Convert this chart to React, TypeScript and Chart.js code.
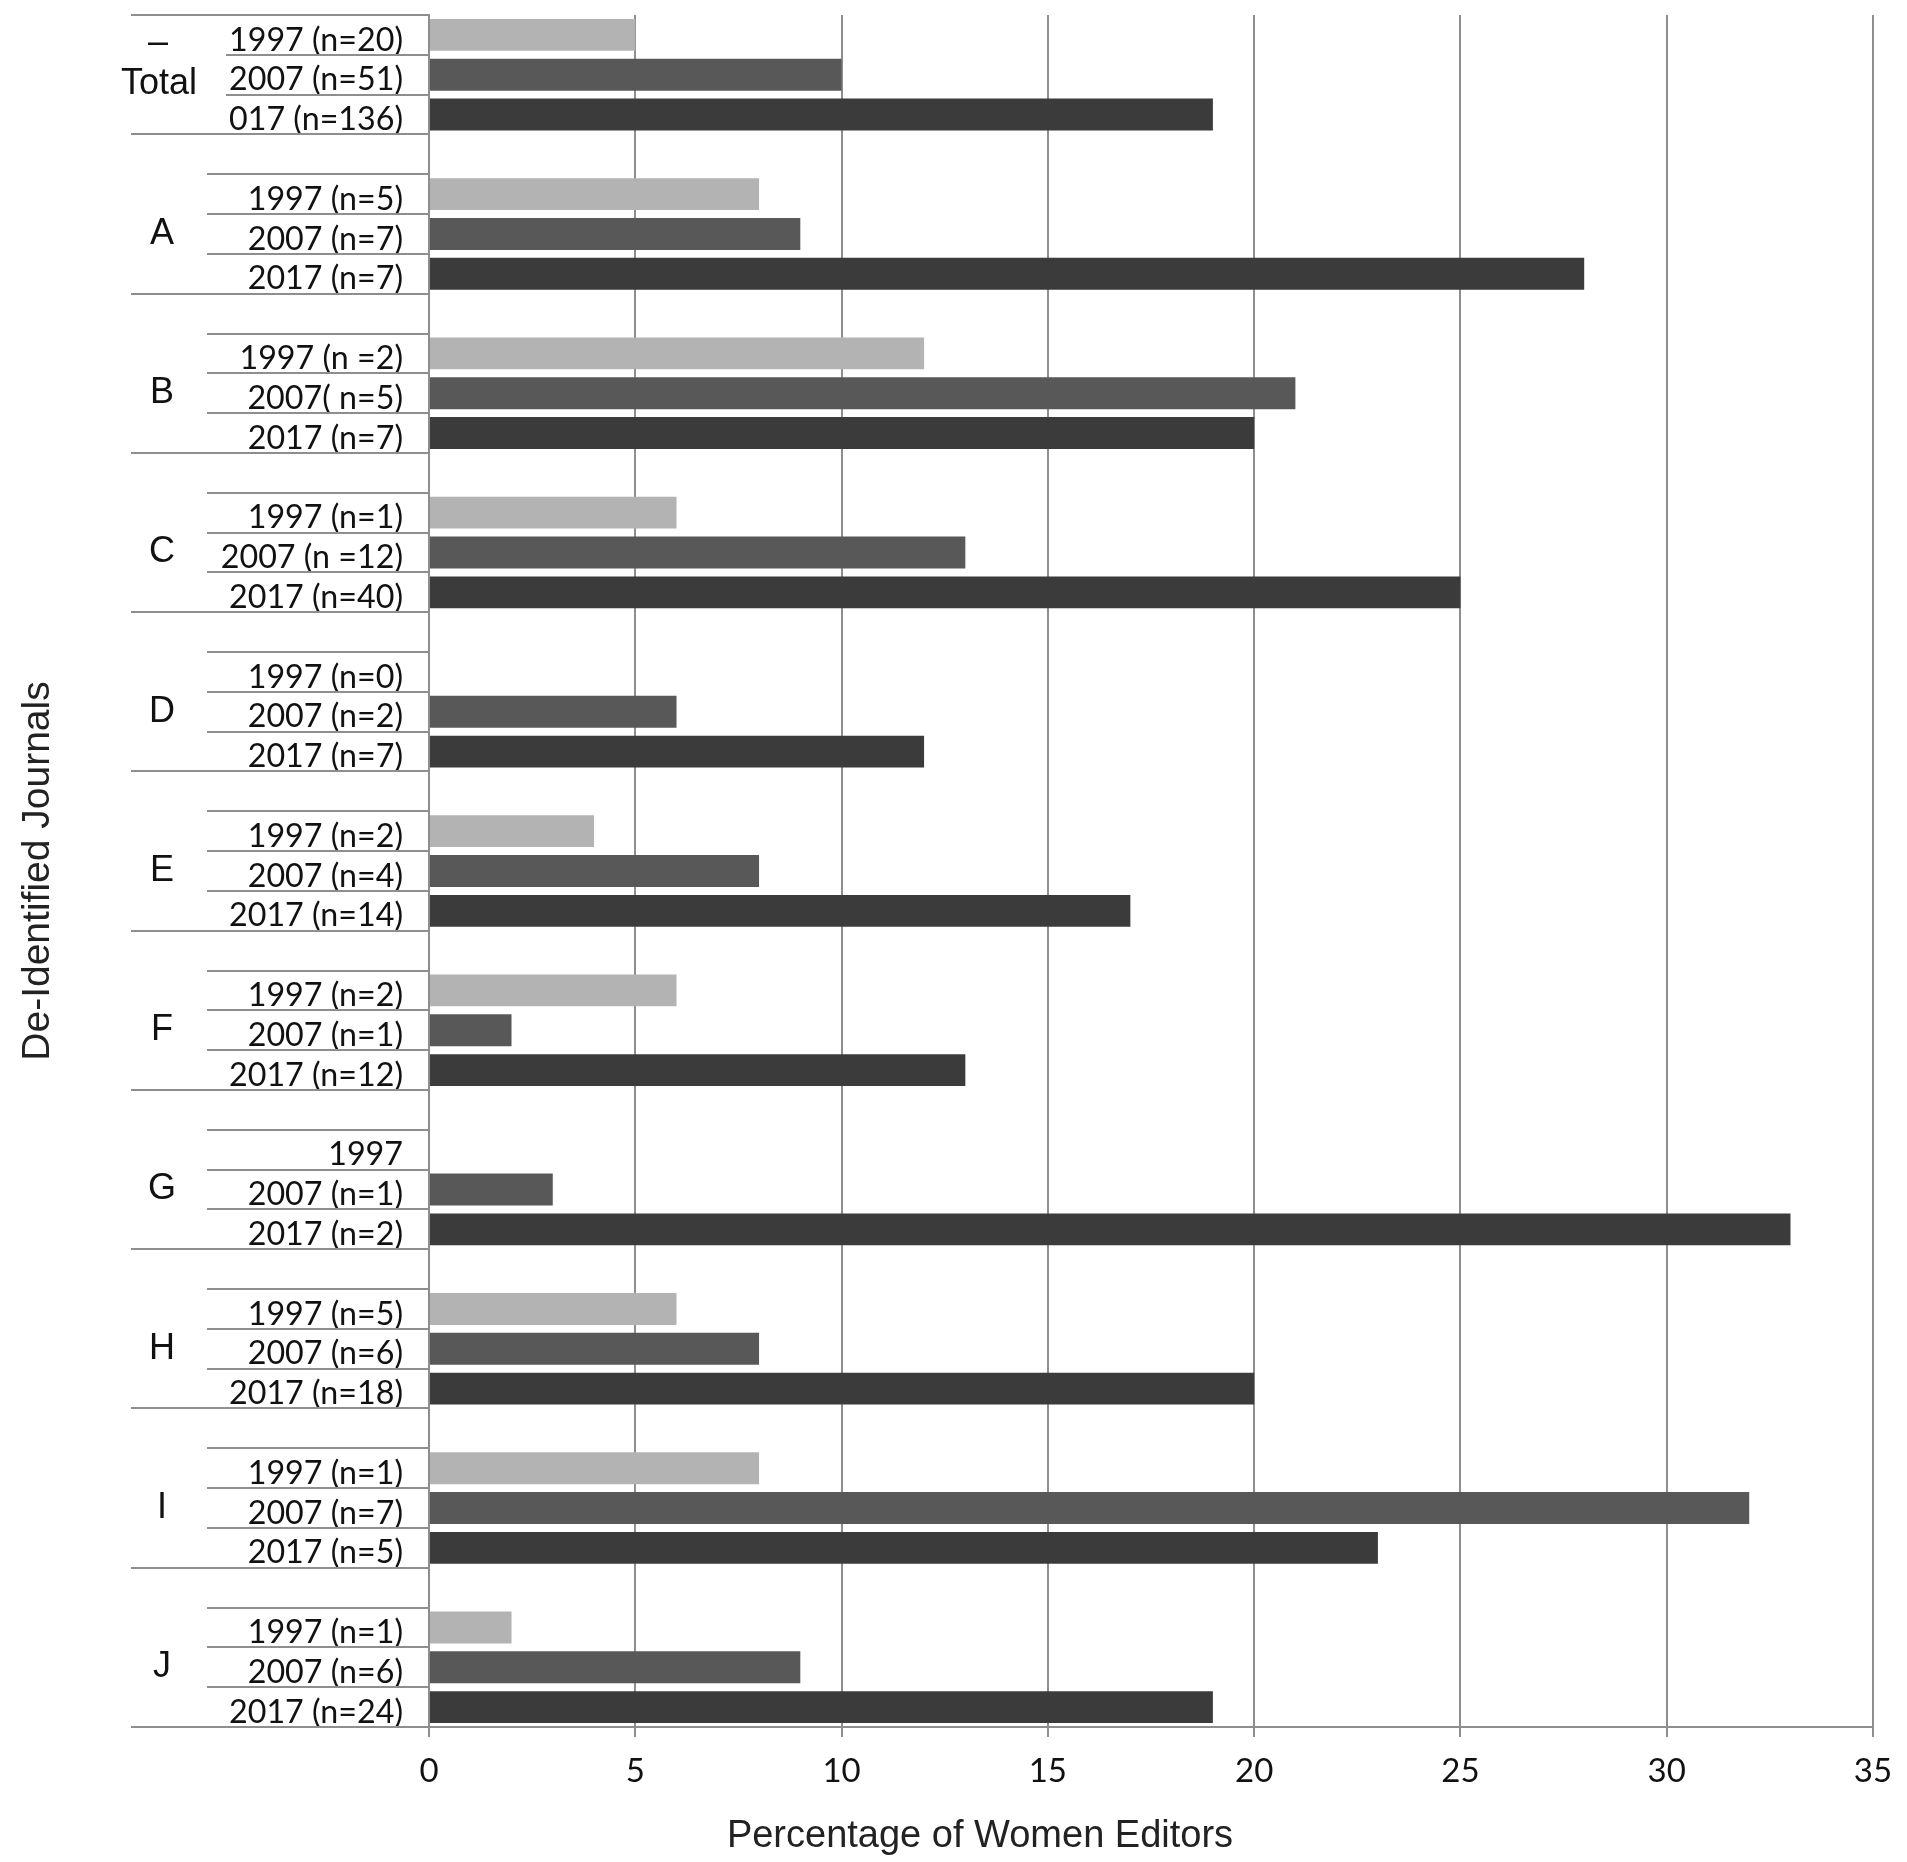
import React, { useEffect, useRef } from 'react';
import { Chart, registerables } from 'chart.js';

Chart.register(...registerables);

// ---- data ----
const groups = ['Total', 'A', 'B', 'C', 'D', 'E', 'F', 'G', 'H', 'I', 'J'];
const labels1997 = ['1997 (n=20)', '1997 (n=5)', '1997 (n =2)', '1997 (n=1)', '1997 (n=0)', '1997 (n=2)', '1997 (n=2)', '1997', '1997 (n=5)', '1997 (n=1)', '1997 (n=1)'];
const labels2007 = ['2007 (n=51)', '2007 (n=7)', '2007( n=5)', '2007 (n =12)', '2007 (n=2)', '2007 (n=4)', '2007 (n=1)', '2007 (n=1)', '2007 (n=6)', '2007 (n=7)', '2007 (n=6)'];
const labels2017 = ['017 (n=136)', '2017 (n=7)', '2017 (n=7)', '2017 (n=40)', '2017 (n=7)', '2017 (n=14)', '2017 (n=12)', '2017 (n=2)', '2017 (n=18)', '2017 (n=5)', '2017 (n=24)'];
const values1997: (number | null)[] = [5, 8, 12, 6, 0, 4, 6, null, 6, 8, 2];
const values2007: (number | null)[] = [10, 9, 21, 13, 6, 8, 2, 3, 8, 32, 9];
const values2017: (number | null)[] = [19, 28, 20, 25, 12, 17, 13, 33, 20, 23, 19];
const xTicks = [0, 5, 10, 15, 20, 25, 30, 35];

const C1997 = '#b3b3b3';
const C2007 = '#585858';
const C2017 = '#3b3b3b';
const LINE = '#8e8e8e';
const TEXT = '#111111';
const LABEL_FONT = 'Lato, "Open Sans", sans-serif';
const SANS = '"Liberation Sans", Arial, sans-serif';

export default function App() {
  const ref = useRef<HTMLCanvasElement>(null);

  useEffect(() => {
    if (!ref.current) return;
    const slotLabels: string[] = [];
    const d1997: (number | null)[] = [];
    const d2007: (number | null)[] = [];
    const d2017: (number | null)[] = [];
    const groupSlots: number[][] = [];
    groups.forEach((_g, i) => {
      if (i > 0) {
        slotLabels.push('');
        d1997.push(null);
        d2007.push(null);
        d2017.push(null);
      }
      const start = slotLabels.length;
      slotLabels.push(labels1997[i], labels2007[i], labels2017[i]);
      d1997.push(values1997[i], null, null);
      d2007.push(null, values2007[i], null);
      d2017.push(null, null, values2017[i]);
      groupSlots.push([start, start + 1, start + 2]);
    });

    const groupPlugin = {
      id: 'groupPlugin',
      afterDraw(chart: any) {
        const ctx = chart.ctx as CanvasRenderingContext2D;
        const y = chart.scales.y;
        const axisX = chart.chartArea.left;
        const h = y.getPixelForValue(1) - y.getPixelForValue(0);
        ctx.save();
        ctx.strokeStyle = LINE;
        ctx.lineWidth = 2;
        const line = (x0: number, yy: number) => {
          const r = Math.round(yy);
          ctx.beginPath();
          ctx.moveTo(x0, r);
          ctx.lineTo(axisX, r);
          ctx.stroke();
        };

        // category labels
        ctx.font = `33px ${LABEL_FONT}`;
        const refW = ctx.measureText('1997 (n=20)').width;
        const sx = refW > 0 ? Math.min(1.08, Math.max(0.92, 174 / refW)) : 1;
        ctx.fillStyle = TEXT;
        ctx.textAlign = 'right';
        ctx.textBaseline = 'middle';
        const labels = chart.data.labels as string[];
        labels.forEach((lab, idx) => {
          if (!lab) return;
          const yy = y.getPixelForValue(idx) + 5;
          ctx.save();
          ctx.translate(axisX - 26, yy);
          ctx.scale(sx, 1);
          ctx.fillText(lab, 0, 0);
          ctx.restore();
        });

        groupSlots.forEach((slots, gi) => {
          const top = y.getPixelForValue(slots[0]) - h / 2;
          const bottom = y.getPixelForValue(slots[2]) + h / 2;
          const shortX = gi === 0 ? 226 : 207;
          line(gi === 0 ? 131 : 207, top);
          line(shortX, top + h);
          line(shortX, top + 2 * h);
          line(131, bottom);
          const mid = (top + bottom) / 2;
          ctx.fillStyle = TEXT;
          ctx.font = `36px ${SANS}`;
          ctx.textAlign = 'center';
          ctx.textBaseline = 'middle';
          if (gi === 0) {
            ctx.fillText('–', 158, mid - 32);
            ctx.fillText(groups[gi], 159, mid + 9);
          } else {
            ctx.fillText(groups[gi], 162, mid);
          }
        });
        ctx.font = `38px ${SANS}`;
        ctx.fillStyle = '#222';
        ctx.textAlign = 'center';
        ctx.textBaseline = 'middle';
        ctx.fillText('Percentage of Women Editors', 980, 1837);
        ctx.restore();
      },
    };

    const chart = new Chart(ref.current, {
      type: 'bar',
      data: {
        labels: slotLabels,
        datasets: [
          { label: '1997', data: d1997, backgroundColor: C1997, borderWidth: 0 },
          { label: '2007', data: d2007, backgroundColor: C2007, borderWidth: 0 },
          { label: '2017', data: d2017, backgroundColor: C2017, borderWidth: 0 },
        ],
      },
      options: {
        indexAxis: 'y',
        responsive: false,
        animation: false,
        layout: { padding: { left: 0, top: 15, right: 34, bottom: 0 } },
        datasets: { bar: { barPercentage: 0.8, categoryPercentage: 1.0 } },
        plugins: { legend: { display: false }, tooltip: { enabled: false }, title: { display: false } },
        scales: {
          x: {
            type: 'linear',
            stacked: true,
            min: 0,
            max: 35,
            afterBuildTicks: (scale: any) => {
              scale.ticks = xTicks.map((v) => ({ value: v }));
            },
            afterFit: (scale: any) => {
              scale.height = 135;
              scale.paddingLeft = 0;
              scale.paddingRight = 0;
            },
            grid: { color: LINE, lineWidth: 2, drawTicks: true, tickLength: 10, tickColor: LINE },
            border: { display: true, color: LINE, width: 2 },
            ticks: { padding: 15, color: TEXT, font: { family: LABEL_FONT, size: 33 } },
          },
          y: {
            type: 'category',
            stacked: true,
            afterFit: (scale: any) => {
              scale.width = 429;
              scale.paddingTop = 0;
              scale.paddingBottom = 0;
            },
            grid: { display: false, drawTicks: false },
            border: { display: true, color: LINE, width: 2 },
            ticks: { display: false, autoSkip: false },
            title: {
              display: true,
              text: 'De-Identified Journals',
              color: '#222',
              font: { family: SANS, size: 39 },
              padding: { top: 15, bottom: 0 },
            },
          },
        },
      },
      plugins: [groupPlugin],
    } as any);

    return () => chart.destroy();
  }, []);

  return (
    <canvas
      ref={ref}
      width={1907}
      height={1862}
      style={{ position: 'absolute', left: 0, top: 0, width: '1907px', height: '1862px' }}
    />
  );
}
